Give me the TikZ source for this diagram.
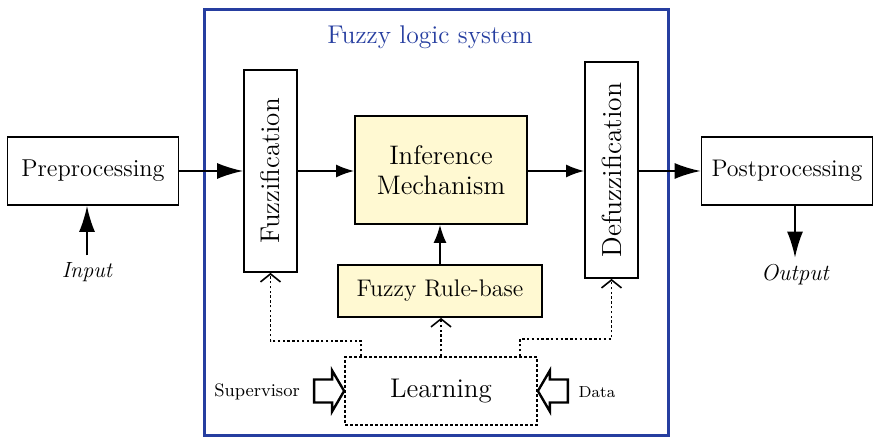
\documentclass[tikz,border=0pt]{standalone}
\usepackage{tikz}
\usetikzlibrary{arrows.meta,positioning,calc}
\definecolor{fzblue}{RGB}{38,62,160}
\definecolor{fzyel}{RGB}{255,249,210}
\tikzset{
  box/.style={draw,line width=0.9pt,align=center,inner sep=0pt},
  ybox/.style={box,fill=fzyel},
  vbox/.style={box,rotate=90,minimum height=26.5pt},
  arr/.style={-{Latex[length=9pt,width=6.5pt]},line width=0.9pt},
  barr/.style={-{Latex[length=13pt,width=8pt]},line width=0.9pt},
  darr/.style={-{Straight Barb[length=4pt,width=10pt,line width=0.8pt]},
               line width=0.9pt,dash pattern=on 1.2pt off 1.2pt},
  harr/.style={line width=1.2pt,fill=white,line join=miter},
}

\begin{document}
\begin{tikzpicture}[x=0.5pt,y=-0.5pt]
\useasboundingbox (0,0) rectangle (878,437);
% system frame
\draw[fzblue,line width=1.5pt] (204,10) rectangle (668,436);
\node[text=fzblue,font=\fontsize{12.8}{15}\selectfont] (title) at (430,37) {Fuzzy logic system};
% blocks
\node[box,minimum width=85.5pt,minimum height=34pt,font=\fontsize{12.2}{14}\selectfont] (pre) at (93,171) {Preprocessing};
\node[vbox,minimum width=101pt,font=\fontsize{13.5}{15}\selectfont] (fuzz) at (270.5,171) {Fuzzification};
\node[ybox,minimum width=86pt,minimum height=54pt,font=\fontsize{13.4}{15}\selectfont] (inf) at (441,170) {Inference\\Mechanism};
\node[vbox,minimum width=108pt,font=\fontsize{13.8}{15}\selectfont] (defuzz) at (611.5,170) {Defuzzification};
\node[box,minimum width=85.5pt,minimum height=34pt,font=\fontsize{12}{14}\selectfont] (post) at (787,171) {Postprocessing};
\node[ybox,minimum width=102pt,minimum height=26pt,font=\fontsize{12}{14}\selectfont] (rule) at (440,291) {Fuzzy Rule-base};
\node[box,dash pattern=on 1.5pt off 1pt,minimum width=96pt,minimum height=34pt,font=\fontsize{13.5}{15}\selectfont] (learn) at (441,391) {Learning};
% labels
\node[font=\itshape\fontsize{11}{13}\selectfont] (inp) at (87,272) {Input};
\node[font=\itshape\fontsize{11.5}{13}\selectfont] (out) at (795,275) {Output};
\node[font=\fontsize{9}{11}\selectfont] (sup) at (257,392) {Supervisor};
\node[font=\fontsize{8}{10}\selectfont] (dat) at (597,392) {Data};
% signal flow
\draw[barr] (pre) -- (fuzz);
\draw[arr] (fuzz.south |- pre.east) -- (inf.west |- pre.east);
\draw[arr] (inf.east |- pre.east) -- (defuzz.north |- pre.east);
\draw[barr] (defuzz.south |- post.west) -- (post.west);
\draw[arr] (rule) -- (rule |- inf.south);
\draw[barr] (inp) -- (inp |- pre.south);
\draw[barr] (post.south -| out) -- (out);
% learning paths
\draw[darr] ($(learn.north west)+(17,0)$) -- ++(0,-15) -| (fuzz.west);
\draw[darr] (learn.north) -- (learn.north |- rule.south);
\draw[darr] ($(learn.north east)+(-18,0)$) -- ++(0,-17) -| (defuzz.west);
% hollow arrows
\draw[harr] (learn.west) -- ++(-12,-20.5) -- ++(0,9) -- ++(-18,0) -- ++(0,23)
  -- ++(18,0) -- ++(0,9) -- cycle;
\draw[harr] (learn.east) -- ++(12,-20.5) -- ++(0,9) -- ++(18,0) -- ++(0,23)
  -- ++(-18,0) -- ++(0,9) -- cycle;
\end{tikzpicture}
\end{document}
